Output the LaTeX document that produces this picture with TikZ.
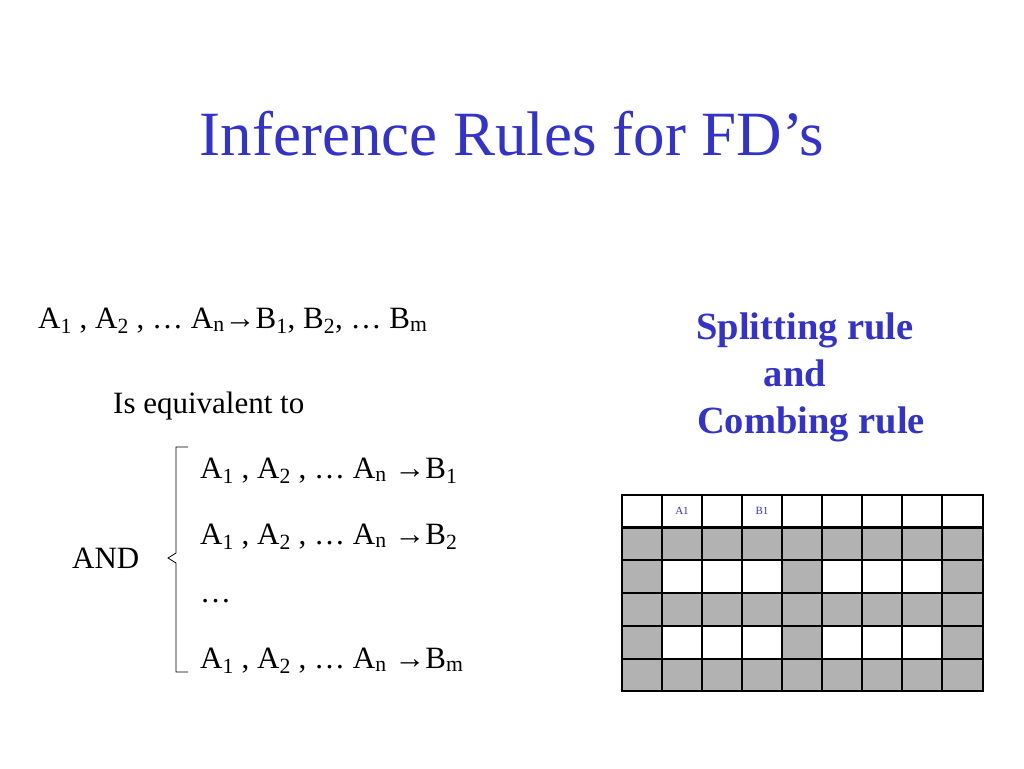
\documentclass[tikz,border=0pt]{standalone}
\usepackage{fontspec}
\setmainfont{Liberation Serif}
\definecolor{titleblue}{RGB}{51,51,204}
\definecolor{cellgray}{RGB}{178,178,178}
\tikzset{
  body/.style={anchor=base west, inner sep=0pt, font=\fontsize{31}{33}\selectfont},
  rule/.style={anchor=base, inner sep=0pt, text=titleblue, font=\fontsize{38.5}{40}\selectfont\bfseries},
  head/.style={inner sep=0pt, text=titleblue, font=\fontsize{11}{12}\selectfont}
}
\newcommand{\sub}[1]{\textsubscript{#1}}
\newcommand{\lhs}{A\sub{1} , A\sub{2} , … A\sub{n}}
\begin{document}
\begin{tikzpicture}[x=1pt,y=-1pt]
    \useasboundingbox (0,0) rectangle (1024,768);
    \node[inner sep=0pt, anchor=base, text=titleblue, font=\fontsize{63}{66}\selectfont] (title) at (512,155) {Inference Rules for FD’s};

    \node[body] (fd) at (38,328) {\lhs→B\sub{1}, B\sub{2}, … B\sub{m}};
    \node[body] (equiv) at (113,413) {Is equivalent to};
    \node[body] (r1) at (200,478) {\lhs\ →B\sub{1}};
    \node[body] (r2) at (200,544) {\lhs\ →B\sub{2}};
    \node[body] (r3) at (200,602) {…};
    \node[body] (r4) at (200,668) {\lhs\ →B\sub{m}};
    \node[body] (and) at (72,568) {AND};

    % bracket
    \coordinate (bt) at (176,447);
    \coordinate (bb) at (176,672);
    \draw[line width=0.8pt] ([xshift=12pt]bt) -- (bt) -- (176,553) -- (168,558) -- (176,563) -- (bb) -- ([xshift=12pt]bb);

    \node[rule] (split) at (805,339) {Splitting rule};
    \node[rule] (andr) at (795,386) {and};
    \node[rule] (comb) at (811,433) {Combing rule};

    % table
    \foreach \r in {1,...,5}
      \fill[cellgray] (622,494+33*\r) rectangle (983,527+33*\r);
    \foreach \r in {2,4}
      \foreach \c in {1,2,3,5,6,7}
        \fill[white] (622+40*\c,494+33*\r) rectangle (662+40*\c,527+33*\r);
    \foreach \c in {1,...,8}
      \draw[line width=1.5pt] (622+40*\c,495) -- (622+40*\c,691);
    \foreach \r in {2,...,5}
      \draw[line width=1.5pt] (622,494+33*\r) -- (983,494+33*\r);
    \draw[line width=3pt] (622,527) -- (983,527);
    \draw[line width=2.5pt] (622,495) rectangle (983,691);
    \foreach \lab [count=\c] in {A1,{...},Am,{},B1,{...},Bm}
      \node[head] (h\c) at (642+40*\c,511) {\lab};
\end{tikzpicture}
\end{document}
